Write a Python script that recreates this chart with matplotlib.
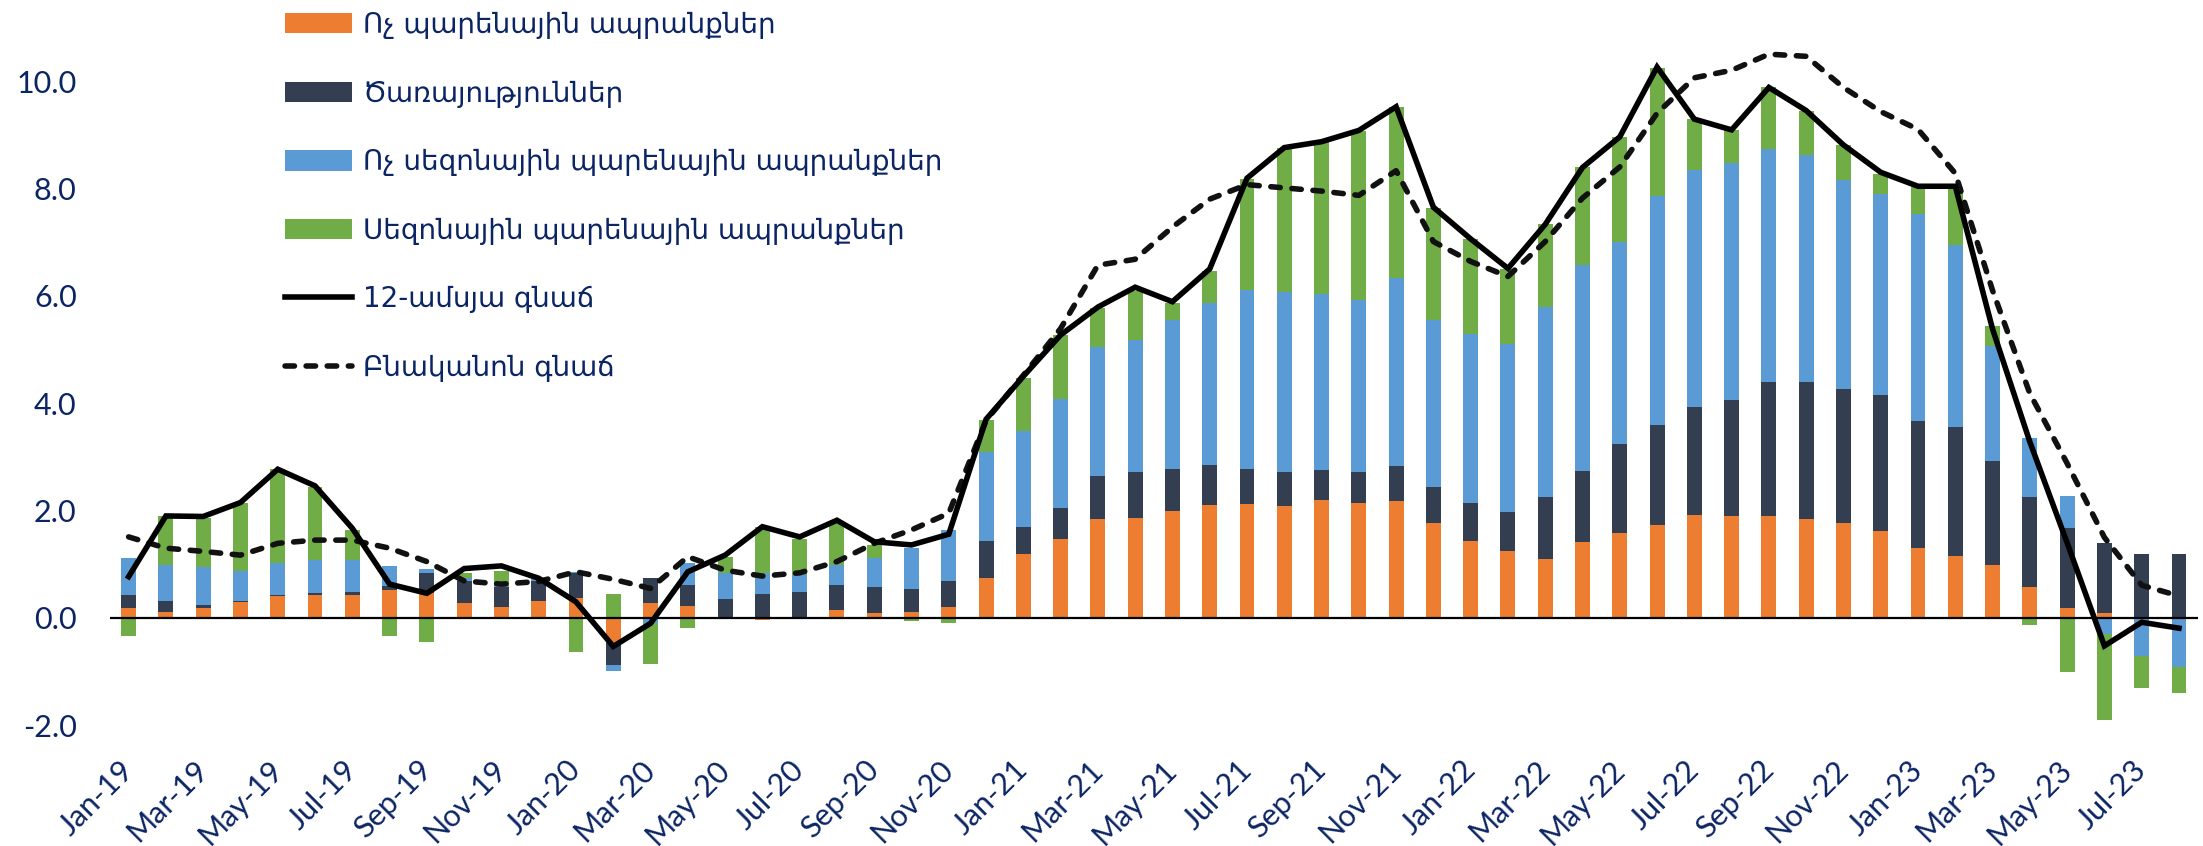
import matplotlib
matplotlib.use("Agg")
import matplotlib.pyplot as plt
from matplotlib.patches import Patch
from matplotlib.lines import Line2D
import numpy as np

# ---------------- data ----------------
month_names = ["Jan", "Feb", "Mar", "Apr", "May", "Jun",
               "Jul", "Aug", "Sep", "Oct", "Nov", "Dec"]
years = ["19", "20", "21", "22", "23"]
months = [f"{m}-{y}" for y in years for m in month_names][:56]

# Non-food goods
nonfood = [0.19, 0.12, 0.19, 0.30, 0.40, 0.42, 0.43, 0.53, 0.46, 0.27, 0.20, 0.31,
           0.37, -0.47, 0.27, 0.22, 0.00, -0.03, 0.00, 0.14, 0.09, 0.12, 0.21, 0.74,
           1.20, 1.48, 1.85, 1.87, 2.00, 2.10, 2.13, 2.08, 2.20, 2.15, 2.18, 1.76,
           1.44, 1.25, 1.10, 1.41, 1.58, 1.74, 1.91, 1.90, 1.89, 1.84, 1.77, 1.62,
           1.31, 1.15, 0.99, 0.58, 0.19, 0.10, 0.00, 0.00]
# Services
services = [0.24, 0.20, 0.06, 0.02, 0.02, 0.05, 0.06, 0.07, 0.38, 0.41, 0.37, 0.37,
            0.46, -0.40, 0.47, 0.39, 0.36, 0.45, 0.48, 0.48, 0.49, 0.42, 0.47, 0.69,
            0.49, 0.57, 0.80, 0.85, 0.77, 0.74, 0.64, 0.64, 0.55, 0.57, 0.65, 0.68,
            0.71, 0.72, 1.15, 1.33, 1.66, 1.85, 2.01, 2.16, 2.51, 2.56, 2.49, 2.53,
            2.36, 2.40, 1.94, 1.68, 1.49, 1.29, 1.19, 1.19]
# Non-seasonal food
nonseasonal_food = [0.69, 0.67, 0.69, 0.55, 0.61, 0.61, 0.59, 0.36, 0.07, 0.07, 0.03, 0.06,
                    0.02, -0.11, -0.10, 0.42, 0.47, 0.39, 0.32, 0.36, 0.54, 0.76, 0.95, 1.67,
                    1.80, 2.03, 2.40, 2.45, 2.77, 3.02, 3.33, 3.36, 3.29, 3.21, 3.50, 3.10,
                    3.13, 3.13, 3.54, 3.83, 3.76, 4.27, 4.42, 4.42, 4.33, 4.23, 3.89, 3.74,
                    3.85, 3.39, 2.14, 1.09, 0.60, -0.30, -0.70, -0.91]
# Seasonal food
seasonal_food = [-0.34, 0.90, 0.92, 1.27, 1.74, 1.35, 0.56, -0.34, -0.44, 0.09, 0.28, -0.02,
                 -0.63, 0.44, -0.76, -0.18, 0.31, 0.86, 0.68, 0.78, 0.24, -0.06, -0.09, 0.59,
                 0.97, 1.19, 0.72, 0.92, 0.33, 0.60, 2.08, 2.68, 2.83, 3.14, 3.18, 2.10,
                 1.77, 1.39, 1.54, 1.82, 1.96, 2.38, 0.95, 0.61, 1.15, 0.81, 0.65, 0.38,
                 0.50, 1.08, 0.36, -0.13, -1.00, -1.60, -0.60, -0.49]
# 12-month inflation
headline = [0.77, 1.90, 1.89, 2.15, 2.77, 2.46, 1.67, 0.63, 0.46, 0.92, 0.97, 0.74,
            0.30, -0.53, -0.10, 0.86, 1.17, 1.70, 1.51, 1.82, 1.42, 1.36, 1.56, 3.70,
            4.50, 5.27, 5.79, 6.16, 5.89, 6.50, 8.19, 8.76, 8.87, 9.08, 9.52, 7.65,
            7.06, 6.51, 7.33, 8.39, 8.96, 10.26, 9.29, 9.09, 9.88, 9.45, 8.81, 8.30,
            8.04, 8.04, 5.38, 3.28, 1.40, -0.52, -0.08, -0.19]
# Core inflation
core = [1.51, 1.30, 1.24, 1.17, 1.39, 1.45, 1.45, 1.30, 1.05, 0.69, 0.63, 0.68,
        0.86, 0.72, 0.55, 1.14, 0.89, 0.78, 0.84, 1.05, 1.39, 1.64, 1.95, 3.68,
        4.52, 5.39, 6.57, 6.68, 7.28, 7.80, 8.07, 8.01, 7.95, 7.87, 8.33, 7.01,
        6.64, 6.36, 7.01, 7.82, 8.40, 9.40, 10.06, 10.20, 10.50, 10.46, 9.88, 9.43,
        9.10, 8.28, 6.10, 4.18, 2.88, 1.50, 0.61, 0.41]

bar_labels = ["Ոչ պարենային ապրանքներ", "Ծառայություններ",
              "Ոչ սեզոնային պարենային ապրանքներ", "Սեզոնային պարենային ապրանքներ"]
line_labels = ["12-ամսյա գնաճ", "Բնականոն գնաճ"]
yticks = [-2.0, 0.0, 2.0, 4.0, 6.0, 8.0, 10.0]

# ---------------- style ----------------
colors = ["#ED7D31", "#333F50", "#5B9BD5", "#70AD47"]
text_color = "#0B2463"
W, H = 2203, 846
LW = 4.0
DASH = (0, (1.7, 2.1))

fig = plt.figure(figsize=(W / 100, H / 100), dpi=100)
ax = fig.add_axes([110 / W, 1 - 736.1 / H, 2087.6 / W, (736.1 - 48.8) / H])

x = np.arange(len(months))
pos_base = np.zeros(len(x))
neg_base = np.zeros(len(x))
for vals, c in zip([nonfood, services, nonseasonal_food, seasonal_food], colors):
    v = np.array(vals, dtype=float)
    pos = np.where(v > 0, v, 0.0)
    neg = np.where(v < 0, v, 0.0)
    ax.bar(x, pos, 0.4, bottom=pos_base, color=c, zorder=2, linewidth=0)
    ax.bar(x, neg, 0.4, bottom=neg_base, color=c, zorder=2, linewidth=0)
    pos_base += pos
    neg_base += neg

ax.axhline(0, color="black", lw=1.6, zorder=3)
ax.plot(x, headline, color="black", lw=LW, zorder=5, solid_joinstyle="miter")
ax.plot(x, core, color="#111111", lw=LW, ls=DASH,
        dash_capstyle="round", zorder=4)

ax.set_xlim(-0.5, 55.5)
ax.set_ylim(-2.2, 10.6)
for s in ax.spines.values():
    s.set_visible(False)

ax.set_yticks(yticks)
ax.set_yticklabels([f"{v:.1f}" for v in yticks], fontfamily="Lato",
                   fontsize=22, color=text_color)
ax.set_xticks(x[::2])
ax.set_xticklabels(months[::2], rotation=45, ha="right", va="center",
                   rotation_mode="anchor", fontfamily="Lato",
                   fontsize=22, color=text_color)
ax.tick_params(axis="y", length=0, pad=24)
ax.tick_params(axis="x", length=0, pad=21)

handles = [Patch(facecolor=c, edgecolor="none") for c in colors]
handles += [Line2D([], [], color="black", lw=LW),
            Line2D([], [], color="#111111", lw=LW, ls=DASH,
                   dash_capstyle="round")]
fig.legend(handles, bar_labels + line_labels, loc="upper left",
           bbox_to_anchor=(285 / W, 1 - 11 / H), frameon=False,
           prop={"family": "DejaVu Sans", "size": 20},
           labelcolor=text_color, handlelength=2.4, handleheight=0.75,
           handletextpad=0.4, labelspacing=1.46, borderpad=0, borderaxespad=0)

fig.savefig("out.png", dpi=100)
